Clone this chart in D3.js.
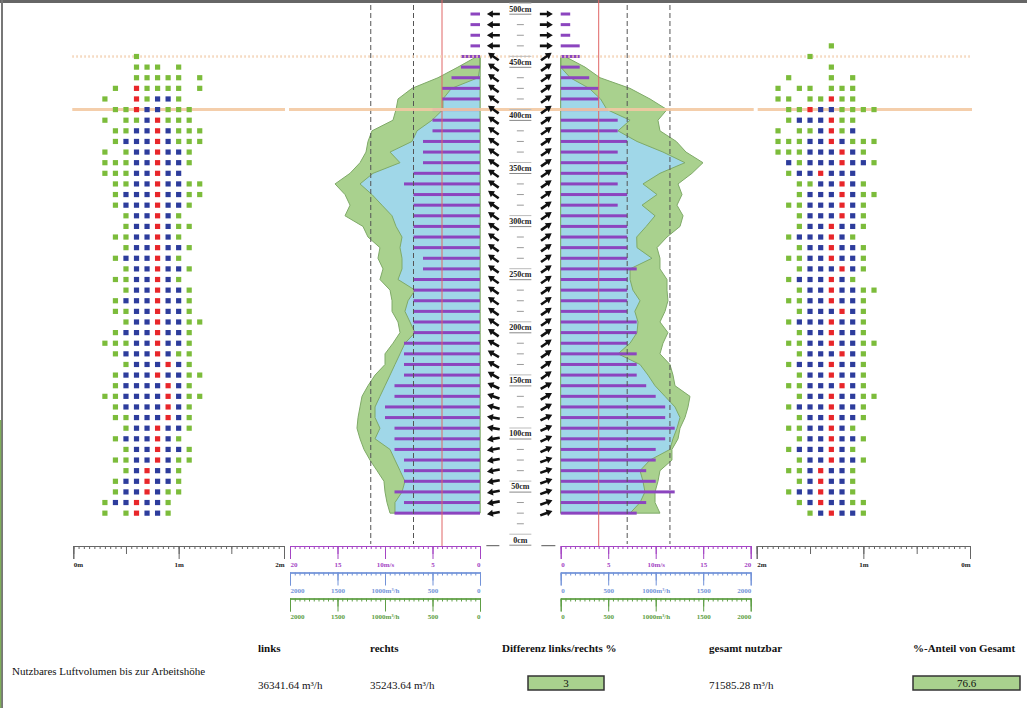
<!DOCTYPE html>
<html>
<head>
<meta charset="utf-8">
<script src="https://cdn.jsdelivr.net/npm/d3@7"></script>
<style>
  body { margin: 0; background: #fff; }
  svg { display: block; }
</style>
</head>
<body>
<div id="chart"></div>
<script>
// Messhöhen (Zeilenmitte in cm), von oben nach unten
const rows = [495, 485, 475, 465, 455, 445, 435, 425, 415, 405, 395, 385, 375, 365, 355, 345,
  335, 325, 315, 305, 295, 285, 275, 265, 255, 245, 235, 225, 215, 205, 195, 185,
  175, 165, 155, 145, 135, 125, 115, 105, 95, 85, 75, 65, 55, 45, 35, 25]

// Geschwindigkeit (m/s) links / rechts
const speedLeft = [1, 1, 1, 1, 2, 2, 3, 4, 4, 5, 5, 5, 6, 6, 6, 7,
  8, 7, 7, 7, 7, 7, 7, 6, 6, 7, 7, 7, 7, 7, 7, 8,
  8, 8, 8, 9, 9, 10, 10, 9, 9, 9, 8, 8, 8, 9, 8, 9]
const speedRight = [1, 1, 1, 2, 2, 2, 3, 4, 4, 5, 6, 6, 7, 6, 7, 7,
  6, 7, 6, 7, 7, 7, 7, 7, 8, 7, 7, 7, 7, 8, 8, 7,
  8, 8, 8, 9, 10, 11, 11, 12, 11, 10, 10, 9, 10, 12, 9, 8]

// Volumenstrom-Flächen (m³/h) für Zeilen 455..25
const areaRows = rows.slice(4)
const totalLeft = [32, 232, 442, 716, 863, 884, 916, 1137, 1179, 1200, 1263, 1368, 1526, 1421, 1368, 1421,
  1232, 1179, 1053, 1074, 1021, 1053, 947, 926, 926, 863, 842, 916, 1000, 1000, 1105, 1179,
  1242, 1263, 1284, 1295, 1263, 1221, 1158, 1084, 1011, 1000, 979, 947]
const usableLeft = [0, 0, 20, 300, 390, 390, 505, 663, 716, 947, 842, 1126, 1263, 1137, 1032, 926,
  884, 821, 842, 821, 821, 863, 684, 758, 790, 737, 684, 790, 842, 895, 947, 1000,
  1053, 1105, 1105, 1053, 1105, 947, 895, 842, 790, 821, 895, 895]
const totalRight = [45, 256, 414, 729, 940, 1119, 1024, 1045, 1217, 1319, 1498, 1382, 1235, 1277, 1224, 1288,
  1256, 1119, 1014, 1045, 1045, 1119, 1119, 1129, 1098, 1045, 1129, 1077, 1045, 1150, 1182, 1203,
  1361, 1340, 1308, 1256, 1235, 1171, 1171, 1045, 1024, 993, 993, 1045]
const usableRight = [0, 0, 100, 300, 420, 487, 730, 603, 803, 1077, 1308, 1045, 866, 1014, 856, 993,
  900, 800, 803, 961, 730, 730, 760, 835, 780, 814, 803, 730, 603, 835, 919, 993,
  1098, 1203, 1256, 1224, 1182, 1150, 940, 835, 866, 887, 835, 730]

// Pfeilwinkel (Grad, positiv = nach oben)
const angleLeft = [0, 0, 0, 0, 35, 35, 35, 35, 35, 35, 35, 35, 35, 35, 35, 35,
  35, 35, 35, 35, 35, 35, 35, 35, 35, 35, 35, 35, 35, 35, 35, 30,
  30, 30, 30, 25, 20, 15, 10, 10, -10, -10, -10, -10, -10, -10, -10, -10]
const angleRight = [0, 0, 0, 0, 35, 35, 35, 35, 35, 35, 35, 35, 35, 35, 35, 35,
  35, 35, 35, 35, 35, 35, 35, 35, 35, 35, 35, 35, 35, 35, 35, 35,
  35, 35, 35, 30, 30, 30, 25, 25, 25, 25, 20, 20, 20, 20, 20, 20]

// Punktmatrix: Zeilen 465..25, je 10 Spalten (g = grün, b = blau, r = rot)
const matrixRows = rows.slice(3)
const dotsLeft = [
  "..........", "...g......", "...ggg.g..", "...ggggg.g", ".g.rgggg.g", "g..rgbbg..",
  ".ggrbbggg.", "g.ggbrggg.", ".ggbbrbggg", ".gbbbrbggg", "g.gbbrbbg.", "gggbbrbbg.",
  "gggbbrbb..", ".ggbbrbbgg", ".gbbbrbbgg", ".gbbbrbbg.", "..gbbrbg..", "..gbbrbgg.",
  ".ggbbrbg..", "..gbbrbbg.", ".gbbbrbg..", "..gbbrbbg.", ".ggbbrbg..", "..gbbrbbg.",
  ".gbbbrbbg.", ".ggbbrbbg.", "..gbbrbbgg", ".gbbbrbbg.", "gggbbrbbg.", ".gbbbrbgg.",
  "..gbbbrbg.", ".gbbbrbbgg", ".gbbbbrbg.", "ggbbbbrbgg", ".gbbbbrbg.", ".ggbbbrbg.",
  "..gbbrbbg.", ".gbbbrbg..", "..gbbrbbg.", ".ggbbrbgg.", "..gbrbbg..", ".gbbrbbg..",
  ".gbbrbgg..", "gbbrbbg...", "g.grbbg..."]
const dotsRight = [
  ".....g....", "...g......", ".....g....", ".g...g.g..", "g.gg.ggg..", "gg.ggrgg..",
  ".ggrbbgggg", ".gbbbrgg..", "g.ggbrgb..", "gggbbrbggg", "gggbbbrbg.", ".bgbbbrbbg",
  ".gbbrbbb..", "..ggbbrbg.", "..gbbbrbgg", ".ggbbbrbg.", "..gbbbrbg.", "..gbbrbbg.",
  ".gbbbrbg..", "..gbbrbbg.", ".ggbbrbbg.", "..gbbbrbg.", ".gbbbrbg..", "..gbbrbbgg",
  ".ggbbrbbg.", "..gbbbrbg.", ".gbbbrbbg.", "..gbbrbbg.", ".ggbbrbbgg", "..gbbbrbg.",
  ".gbbbrbbg.", "..gbbrbbg.", ".ggbbbrbg.", "..gbbrbbgg", ".gbbbrbbg.", "..gbbrbbg.",
  ".ggbbrbg..", "..gbbrbbg.", ".gbbbrbg..", "..gbbrbbg.", ".ggbrbbg..", "..gbrbbg..",
  ".gbbrbbg..", "..gbrbbgg.", "...gbrbbg."]
const colsLeft = [0.3, 0.4, 0.5, 0.6, 0.7, 0.8, 0.9, 1.0, 1.1, 1.2]
const colsRight = [1.8, 1.7, 1.6, 1.5, 1.4, 1.3, 1.2, 1.1, 1.0, 0.9]

// Bezugslinien (m/s) und Markierungshöhen (cm)
const redLine = 4
const dashedLines = [7, 11.5]
const heightLabels = [500, 450, 400, 350, 300, 250, 200, 150, 100, 50, 0]
const workHeight = 405
const topMark = 455

// Achsen
const speedTicks = [0, 5, 10, 15, 20]
const flowTicks = [0, 500, 1000, 1500, 2000]
const meterTicks = [0, 1, 2]

// Tabelle
const tableHead = ["links", "rechts", "Differenz links/rechts %", "gesamt nutzbar", "%-Anteil von Gesamt"]
const rowLabel = "Nutzbares Luftvolumen bis zur Arbeitshöhe"
const volLeft = "36341.64 m³/h"
const volRight = "35243.64 m³/h"
const diffPct = "3"
const volTotal = "71585.28 m³/h"
const sharePct = "76.6"

const W = 1027, H = 708
const svg = d3.select("#chart").append("svg").attr("width", W).attr("height", H)
  .attr("font-family", "'Liberation Serif', serif")

const y = d3.scaleLinear().domain([0, 500]).range([539.7, 8.7])
const vL = d3.scaleLinear().domain([0, 20]).range([480, 290])
const vR = d3.scaleLinear().domain([0, 20]).range([560.7, 750.7])
const qL = d3.scaleLinear().domain([0, 2000]).range([480, 290])
const qR = d3.scaleLinear().domain([0, 2000]).range([560.7, 750.7])
const mL = d3.scaleLinear().domain([0, 2]).range([73.3, 284])
const mR = d3.scaleLinear().domain([2, 0]).range([756.7, 970])
const cx = (vL(0) + vR(0)) / 2

const colorDot = { g: "#7cbc3b", b: "#2d3c9c", r: "#e8262a" }
const purple = "#8c45bf"

// Rahmen
svg.append("line").attr("x1", 0).attr("x2", W).attr("y1", 1.5).attr("y2", 1.5)
  .attr("stroke", "#666").attr("stroke-width", 3)
svg.append("line").attr("x1", 2).attr("x2", 2).attr("y1", 0).attr("y2", H)
  .attr("stroke", "#777").attr("stroke-width", 2)
svg.append("line").attr("x1", 0.5).attr("x2", 0.5).attr("y1", 420).attr("y2", H)
  .attr("stroke", "#7fae5a").attr("stroke-width", 1.5)

// Flächen
function drawArea(values, scale, fill) {
  const area = d3.area()
    .y((d, i) => y(areaRows[i]))
    .x0(scale(0))
    .x1((d) => scale(d))
  svg.append("path").datum(values).attr("d", area)
    .attr("fill", fill).attr("stroke", "#7faa68").attr("stroke-width", 1)
}
drawArea(totalLeft, qL, "#a9d18e")
drawArea(totalRight, qR, "#a9d18e")
drawArea(usableLeft, qL, "#a0d7e8")
drawArea(usableRight, qR, "#a0d7e8")

// Geschwindigkeitsbalken
const barH = 3
svg.selectAll(".bar-l").data(speedLeft).enter().append("rect")
  .attr("x", (d) => vL(d)).attr("width", (d) => vL(0) - vL(d))
  .attr("y", (d, i) => y(rows[i]) - barH / 2).attr("height", barH)
  .attr("fill", purple)
svg.selectAll(".bar-r").data(speedRight).enter().append("rect")
  .attr("x", vR(0)).attr("width", (d) => vR(d) - vR(0))
  .attr("y", (d, i) => y(rows[i]) - barH / 2).attr("height", barH)
  .attr("fill", purple)

// Bezugslinien
;[vL, vR].forEach((s) => {
  svg.append("line").attr("x1", s(redLine)).attr("x2", s(redLine))
    .attr("y1", 0).attr("y2", 546).attr("stroke", "#e06666").attr("stroke-width", 1)
  dashedLines.forEach((v) => {
    svg.append("line").attr("x1", s(v)).attr("x2", s(v))
      .attr("y1", 5).attr("y2", 544).attr("stroke", "#555")
      .attr("stroke-width", 1).attr("stroke-dasharray", "5,3")
  })
})

// Arbeitshöhe-Linien (mit Unterbrechung zwischen Maßstab und Diagramm)
const lineSpans = [[mL(0) - 1, mL(2) + 1], [vL(20) - 1, mR(2) - 3], [mR(2) + 1, mR(0) + 2]]
lineSpans.forEach(([a, b]) => {
  svg.append("line").attr("x1", a).attr("x2", b)
    .attr("y1", y(workHeight)).attr("y2", y(workHeight))
    .attr("stroke", "#f3c9a2").attr("stroke-width", 3).attr("opacity", 0.9)
})
svg.append("line").attr("x1", mL(0) - 1).attr("x2", mR(0) + 2)
  .attr("y1", y(topMark)).attr("y2", y(topMark))
  .attr("stroke", "#f3d2b4").attr("stroke-width", 2.5).attr("stroke-dasharray", "1.5,2.5")

// Höhenskala in der Mitte
svg.selectAll(".dash").data(rows.concat([15, 5]).filter((h) => h % 50 !== 45 && h % 50 !== 5))
  .enter().append("line")
  .attr("x1", cx - 3.5).attr("x2", cx + 3.5)
  .attr("y1", (d) => y(d)).attr("y2", (d) => y(d))
  .attr("stroke", "#9a9a9a").attr("stroke-width", 1)
const hl = svg.selectAll(".hlabel").data(heightLabels).enter().append("g")
  .attr("transform", (d) => `translate(${cx},${y(d)})`)
hl.append("text").text((d) => `${d}cm`)
  .attr("text-anchor", "middle").attr("dy", "0.35em")
  .attr("font-size", 8).attr("font-weight", "bold").attr("fill", "#222")
hl.append("line").attr("x1", -11).attr("x2", 11).attr("y1", 5.5).attr("y2", 5.5)
  .attr("stroke", "#888").attr("stroke-width", 1)
hl.append("line").attr("x1", -11).attr("x2", 11).attr("y1", -5.5).attr("y2", -5.5)
  .attr("stroke", "#bbb").attr("stroke-width", 1)
;[[cx - 34, cx - 21], [cx + 21, cx + 35]].forEach(([a, b]) => {
  svg.append("line").attr("x1", a).attr("x2", b).attr("y1", y(0) + 6).attr("y2", y(0) + 6)
    .attr("stroke", "#555").attr("stroke-width", 1)
})

// Pfeile
const arrowPath = "M-6.5,-1.3 L0.5,-1.3 L0.5,-3.6 L6.5,0 L0.5,3.6 L0.5,1.3 L-6.5,1.3 Z"
svg.selectAll(".arr-l").data(angleLeft).enter().append("path")
  .attr("d", arrowPath).attr("fill", "#111")
  .attr("transform", (d, i) => `translate(${cx - 27},${y(rows[i])}) rotate(${180 + d})`)
svg.selectAll(".arr-r").data(angleRight).enter().append("path")
  .attr("d", arrowPath).attr("fill", "#111")
  .attr("transform", (d, i) => `translate(${cx + 26},${y(rows[i])}) rotate(${-d})`)

// Punktmatrizen
function drawDots(pattern, cols, scale) {
  const pts = []
  pattern.forEach((str, ri) => {
    str.split("").forEach((c, ci) => {
      if (colorDot[c]) pts.push({ h: matrixRows[ri], m: cols[ci], c })
    })
  })
  svg.append("g").selectAll("rect").data(pts).enter().append("rect")
    .attr("x", (d) => scale(d.m) - 2.6).attr("y", (d) => y(d.h) - 2.6)
    .attr("width", 5.2).attr("height", 5.2)
    .attr("fill", (d) => colorDot[d.c])
}
drawDots(dotsLeft, colsLeft, mL)
drawDots(dotsRight, colsRight, mR)

// Achsen
function ruler(scale, yPos, color, majors, fmt, minorStep, midStep) {
  const [a, b] = scale.domain()
  const lo = Math.min(a, b), hi = Math.max(a, b)
  const minor = d3.range(lo, hi + minorStep / 2, minorStep)
  const mid = d3.range(lo, hi + midStep / 2, midStep)
  const g = svg.append("g").attr("transform", `translate(0,${yPos})`)
  g.append("g").call(d3.axisBottom(scale).tickValues(minor).tickSize(3).tickSizeOuter(0).tickFormat(""))
  g.append("g").call(d3.axisBottom(scale).tickValues(mid).tickSize(8).tickSizeOuter(0).tickFormat(""))
  g.append("g").call(d3.axisBottom(scale).tickValues(majors).tickSize(13).tickSizeOuter(13)
    .tickPadding(3).tickFormat(fmt))
  g.selectAll("path, line").attr("stroke", color)
  const [r0, r1] = scale.range()
  g.selectAll("text").attr("fill", color).attr("font-size", 7).attr("font-weight", "bold")
    .attr("font-family", "'Liberation Serif', serif")
    .attr("text-anchor", (d) => (scale(d) === r0 ? (r0 < r1 ? "start" : "end")
      : scale(d) === r1 ? (r0 < r1 ? "end" : "start") : "middle"))
  return g
}
ruler(mL, 546, "#666", meterTicks, (d) => `${d}m`, 0.05, 0.5).selectAll("text").attr("fill", "#222")
ruler(mR, 546, "#666", meterTicks, (d) => `${d}m`, 0.05, 0.5).selectAll("text").attr("fill", "#222")
ruler(vL, 546, "#a445c4", speedTicks, (d) => (d === 10 ? "10m/s" : d), 0.5, 5)
ruler(vR, 546, "#a445c4", speedTicks, (d) => (d === 10 ? "10m/s" : d), 0.5, 5)
ruler(qL, 572.5, "#7393d8", flowTicks, (d) => (d === 1000 ? "1000m³/h" : d), 50, 500)
ruler(qR, 572.5, "#7393d8", flowTicks, (d) => (d === 1000 ? "1000m³/h" : d), 50, 500)
ruler(qL, 598.5, "#5e9e45", flowTicks, (d) => (d === 1000 ? "1000m³/h" : d), 50, 500)
ruler(qR, 598.5, "#5e9e45", flowTicks, (d) => (d === 1000 ? "1000m³/h" : d), 50, 500)

// Tabelle
const colX = [258, 370, 502, 709, 913]
svg.selectAll(".th").data(tableHead).enter().append("text")
  .attr("x", (d, i) => colX[i]).attr("y", 652).text((d) => d)
  .attr("font-size", 11).attr("font-weight", "bold").attr("fill", "#111")
svg.append("text").attr("x", 12).attr("y", 675).text(rowLabel)
  .attr("font-size", 11).attr("fill", "#111")
;[[volLeft, colX[0]], [volRight, colX[1]], [volTotal, colX[3]]].forEach(([t, x]) => {
  svg.append("text").attr("x", x).attr("y", 689).text(t).attr("font-size", 11).attr("fill", "#111")
})
;[[diffPct, 528, 76], [sharePct, 913, 107]].forEach(([t, x, w]) => {
  svg.append("rect").attr("x", x).attr("y", 676).attr("width", w).attr("height", 14)
    .attr("fill", "#a9d18e").attr("stroke", "#333").attr("stroke-width", 1.5)
  svg.append("text").attr("x", x + w / 2).attr("y", 687).attr("text-anchor", "middle")
    .text(t).attr("font-size", 11).attr("fill", "#111")
})
</script>
</body>
</html>
